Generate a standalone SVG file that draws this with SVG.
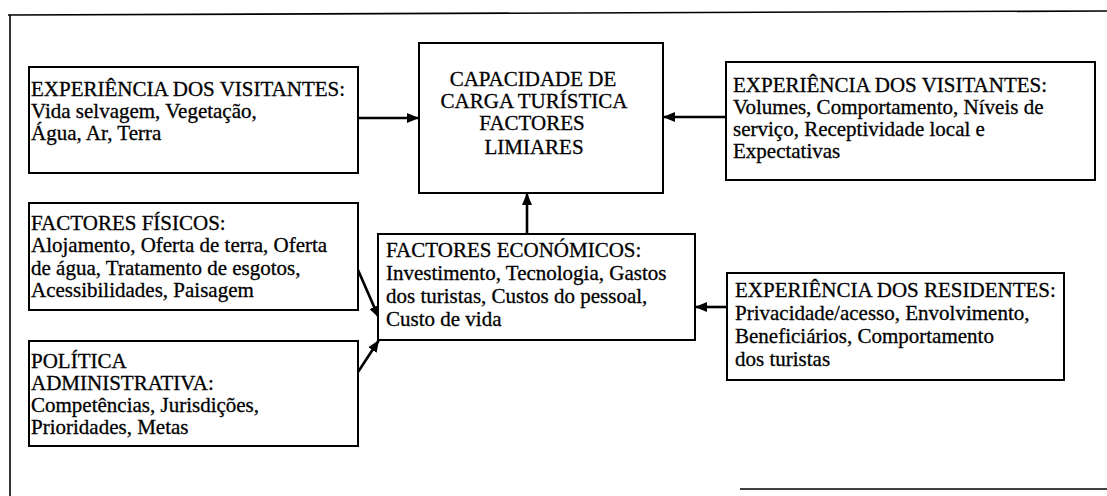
<svg xmlns="http://www.w3.org/2000/svg" width="1107" height="496" viewBox="0 0 1107 496">
<style>
.box{fill:#fff;stroke:#000;stroke-width:2}
.frame{fill:none;stroke:#000;stroke-width:1.6}
.t{font-family:"Liberation Serif","Times New Roman",serif;font-size:21px;fill:#000;stroke:#000;stroke-width:0.3}
.c{text-anchor:middle}
.con{stroke:#000;stroke-width:2.6;fill:none;marker-end:url(#ah)}
</style>
<defs>
<marker id="ah" viewBox="0 0 12 10" refX="12" refY="5" markerWidth="12" markerHeight="10" markerUnits="userSpaceOnUse" orient="auto">
<path d="M0,0 L12,5 L0,10 z" fill="#000"/>
</marker>
</defs>
<rect width="1107" height="496" fill="#fff"/>
<g id="frame">
<path class="frame" d="M8,15 L1107,11"/>
<path class="frame" d="M10,15 L10,496"/>
<path class="frame" d="M740,489 L1107,489"/>
</g>
<g id="connectors">
<path class="con" d="M358,118 L419,118"/>
<path class="con" d="M726,117 L663,117"/>
<path class="con" d="M527,234 L527,193"/>
<path class="con" d="M727,307 L695,307"/>
<path class="con" d="M358,270 L379,318"/>
<path class="con" d="M358,372 L379,340"/>
</g>
<g id="n-visitantes-ambiente">
<rect class="box" x="29" y="67" width="329" height="106"/>
<text class="t" x="31" y="96">EXPERIÊNCIA DOS VISITANTES:</text>
<text class="t" x="31" y="118">Vida selvagem, Vegetação,</text>
<text class="t" x="31" y="140">Água, Ar, Terra</text>
</g>
<g id="n-capacidade">
<rect class="box" x="419" y="43" width="244" height="150"/>
<text class="t c" x="533" y="86">CAPACIDADE DE</text>
<text class="t c" x="534" y="108">CARGA TURÍSTICA</text>
<text class="t c" x="532" y="130">FACTORES</text>
<text class="t c" x="534" y="154">LIMIARES</text>
</g>
<g id="n-visitantes-social">
<rect class="box" x="726" y="62" width="369" height="118"/>
<text class="t" x="733" y="92">EXPERIÊNCIA DOS VISITANTES:</text>
<text class="t" x="733" y="114">Volumes, Comportamento, Níveis de</text>
<text class="t" x="733" y="136">serviço, Receptividade local e</text>
<text class="t" x="733" y="158">Expectativas</text>
</g>
<g id="n-fisicos">
<rect class="box" x="29" y="203" width="329" height="107"/>
<text class="t" x="31" y="230">FACTORES FÍSICOS:</text>
<text class="t" x="31" y="252">Alojamento, Oferta de terra, Oferta</text>
<text class="t" x="31" y="275">de água, Tratamento de esgotos,</text>
<text class="t" x="31" y="297">Acessibilidades, Paisagem</text>
</g>
<g id="n-economicos">
<rect class="box" x="378" y="234" width="317" height="106"/>
<text class="t" x="386" y="257">FACTORES ECONÓMICOS:</text>
<text class="t" x="386" y="280">Investimento, Tecnologia, Gastos</text>
<text class="t" x="386" y="303">dos turistas, Custos do pessoal,</text>
<text class="t" x="386" y="326">Custo de vida</text>
</g>
<g id="n-residentes">
<rect class="box" x="727" y="273" width="337" height="107"/>
<text class="t" x="735" y="297">EXPERIÊNCIA DOS RESIDENTES:</text>
<text class="t" x="735" y="320">Privacidade/acesso, Envolvimento,</text>
<text class="t" x="735" y="343">Beneficiários, Comportamento</text>
<text class="t" x="735" y="366">dos turistas</text>
</g>
<g id="n-politica">
<rect class="box" x="29" y="341" width="329" height="105"/>
<text class="t" x="31" y="368">POLÍTICA</text>
<text class="t" x="31" y="390">ADMINISTRATIVA:</text>
<text class="t" x="31" y="412">Competências, Jurisdições,</text>
<text class="t" x="31" y="434">Prioridades, Metas</text>
</g>
</svg>
